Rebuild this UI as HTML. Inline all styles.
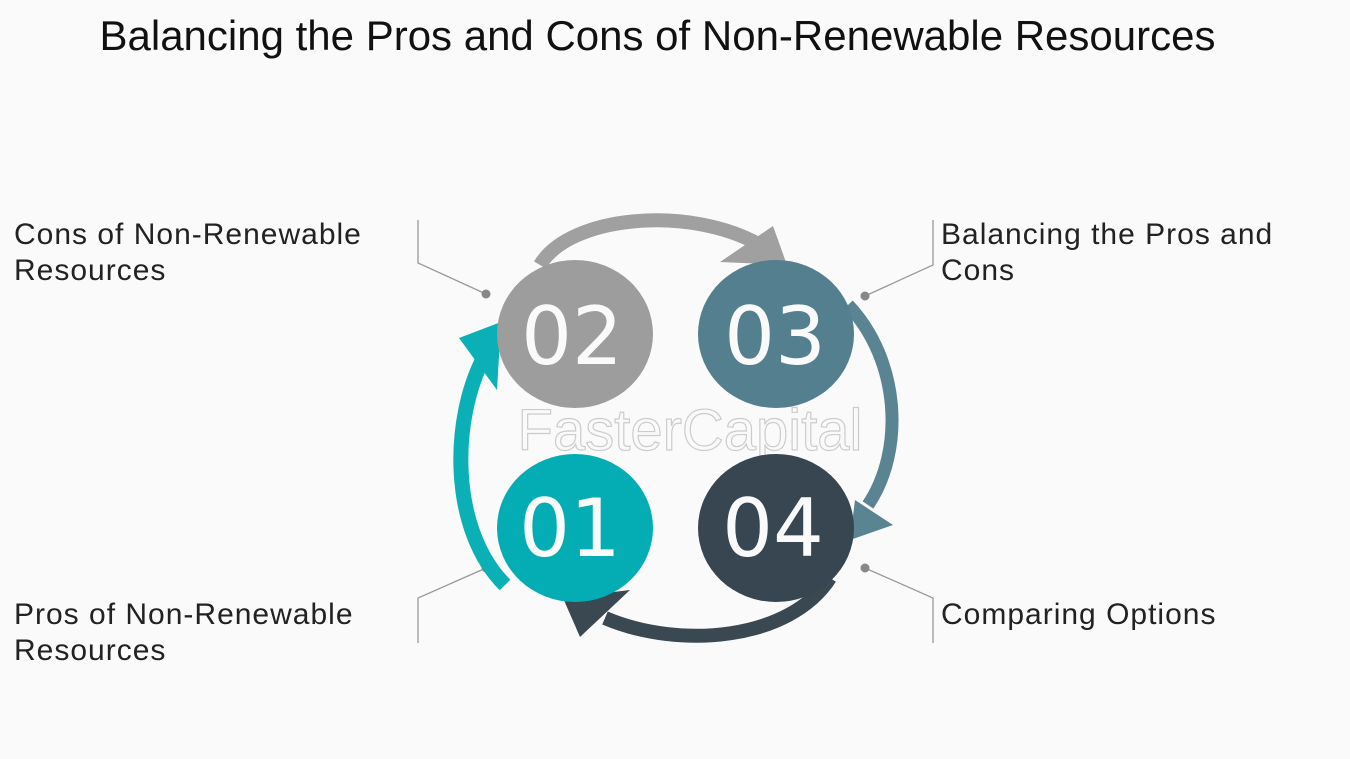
<!DOCTYPE html>
<html><head><style>
body{margin:0;width:1350px;height:759px;background:#fafafa;overflow:hidden;font-family:"Liberation Sans",sans-serif;position:relative}
.t{position:absolute;left:0;width:1315px;text-align:center;top:12px;font-size:42px;color:#111;white-space:nowrap}
.l{position:absolute;font-size:30px;line-height:36px;color:#222;letter-spacing:1px;white-space:nowrap}
</style></head><body>
<div class="t">Balancing the Pros and Cons of Non-Renewable Resources</div>
<div class="l" style="left:14px;top:217px">Cons of Non-Renewable<br>Resources</div>
<div class="l" style="left:941px;top:217px">Balancing the Pros and<br>Cons</div>
<div class="l" style="left:14px;top:597px">Pros of Non-Renewable<br>Resources</div>
<div class="l" style="left:941px;top:597px">Comparing Options</div>
<svg width="1350" height="759" style="position:absolute;left:0;top:0">
<g stroke="#999" stroke-width="1.3" fill="none">
<polyline points="418,220 418,263 486,294"/>
<polyline points="418,643 418,598 486,568"/>
<polyline points="933,220 933,265 865,296"/>
<polyline points="933,643 933,598 865,568"/>
</g>
<g fill="#888"><circle cx="486" cy="294" r="4.5"/><circle cx="486" cy="568" r="4.5"/><circle cx="865" cy="296" r="4.5"/><circle cx="865" cy="568" r="4.5"/></g>
<text x="690" y="450" font-size="58" fill="none" stroke="#ccc" stroke-width="1.2" text-anchor="middle" font-family="Liberation Sans">FasterCapital</text>
<path d="M540,265 C570,215 690,205 760,245" stroke="#a0a0a0" stroke-width="14" fill="none"/>
<polygon points="787,265 720,262 773,226" fill="#a0a0a0"/>
<path d="M848,305 C900,360 905,450 868,505" stroke="#5a8492" stroke-width="13" fill="none"/>
<polygon points="850,540 855,500 893,525" fill="#5a8492"/>
<path d="M830,578 C790,640 680,650 605,618" stroke="#3a4852" stroke-width="14" fill="none"/>
<polygon points="563,598 630,590 580,637" fill="#3a4852"/>
<path d="M505,585 C450,530 450,420 485,355" stroke="#0ab0b6" stroke-width="15" fill="none"/>
<polygon points="501,322 459,338 497,390" fill="#0ab0b6"/>
<ellipse cx="575" cy="334" rx="78" ry="74" fill="#9d9d9d"/>
<ellipse cx="776" cy="334" rx="78" ry="74" fill="#547f8e"/>
<ellipse cx="575" cy="528" rx="78" ry="74" fill="#04adb4"/>
<ellipse cx="776" cy="528" rx="78" ry="74" fill="#374650"/>
<g fill="#fafafa" font-size="80" text-anchor="middle" font-family="DejaVu Sans">
<text x="572" y="364">02</text><text x="775" y="364">03</text>
<text x="570" y="556">01</text><text x="773" y="556">04</text>
</g>
</svg>
</body></html>
